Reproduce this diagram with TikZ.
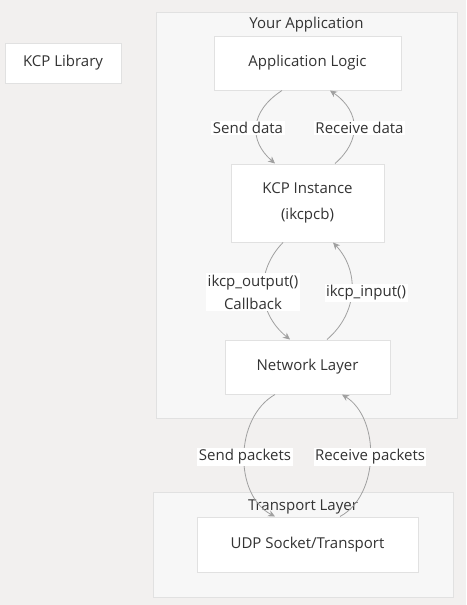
\documentclass[tikz,border=0pt]{standalone}
\usepackage{fontspec}
\setmainfont{Open Sans}
\usepackage{tikz}
\usetikzlibrary{arrows.meta, positioning}
\definecolor{pagebg}{RGB}{242,240,239}
\definecolor{clusterbg}{RGB}{247,247,247}
\definecolor{edgeline}{RGB}{225,225,225}
\definecolor{txt}{RGB}{51,51,51}
\definecolor{linkgray}{RGB}{160,160,160}

\begin{document}
\begin{tikzpicture}[x=1pt, y=-1pt,
    font=\fontsize{15}{23}\selectfont, text=txt,
    block/.style={draw=edgeline, line width=1pt, fill=white, align=center, inner sep=0pt},
    cluster/.style={draw=edgeline, line width=1pt, fill=clusterbg, inner sep=0pt},
    link/.style={draw=linkgray, line width=0.8pt, -{Stealth[length=7pt, width=6.5pt]}},
    linklabel/.style={fill=white, inner sep=1.5pt, align=center},
  ]
      % page and clusters
      \fill[pagebg] (0,0) rectangle (466,605);
      \useasboundingbox (0,0) rectangle (466,605);
      \node[cluster, minimum width=301pt, minimum height=406pt] (yourapp) at (306.5,215) {};
      \node (yourapptitle) at (306.5,25) {Your Application};
      \node[cluster, minimum width=300pt, minimum height=105pt] (transport) at (303,544.5) {};
      \node (transporttitle) at (303,507) {Transport Layer};

      \node[block, minimum width=116pt, minimum height=40pt] (kcplib) at (63,63) {KCP Library};
      \node[block, minimum width=187pt, minimum height=54pt] (applogic) at (307.5,63) {Application Logic};
      \node[block, minimum width=153pt, minimum height=78pt] (kcpinst) at (307.5,203) {KCP Instance\\[3pt](ikcpcb)};
      \node[block, minimum width=165pt, minimum height=54pt] (netlayer) at (307.5,367) {Network Layer};
      \node[block, minimum width=221pt, minimum height=55pt] (udp) at (307.5,544.5) {UDP Socket/Transport};

      \coordinate (sd1) at (282,90.5);  \coordinate (sd2) at (275,163.5);
      \coordinate (rd1) at (335,163.5); \coordinate (rd2) at (330,90.5);
      \coordinate (io1) at (283,242.5); \coordinate (io2) at (290,339.5);
      \coordinate (ii1) at (327,339.5); \coordinate (ii2) at (333,242.5);
      \coordinate (sp1) at (275,394.5); \coordinate (sp2) at (275,516.5);
      \coordinate (rp1) at (340,516.5); \coordinate (rp2) at (342,394.5);

      \draw[link] (sd1) .. controls (249,112) and (249,141) .. (sd2);
      \draw[link] (rd1) .. controls (361,141) and (361,112) .. (rd2);
      \draw[link] (io1) .. controls (256,270) and (256,312) .. (io2);
      \draw[link] (ii1) .. controls (359,312) and (359,270) .. (ii2);
      \draw[link] (sp1) .. controls (234,418) and (234,495) .. (sp2);
      \draw[link] (rp1) .. controls (380,495) and (380,418) .. (rp2);

      \node[linklabel] (lsenddata) at (248,128) {Send data};
      \node[linklabel] (lrecvdata) at (359.5,128) {Receive data};
      \node[linklabel] (loutput) at (253,292) {ikcp\_output()\\Callback};
      \node[linklabel] (linput) at (366,293) {ikcp\_input()};
      \node[linklabel] (lsendpkt) at (245,457) {Send packets};
      \node[linklabel] (lrecvpkt) at (370,457) {Receive packets};
\end{tikzpicture}
\end{document}
